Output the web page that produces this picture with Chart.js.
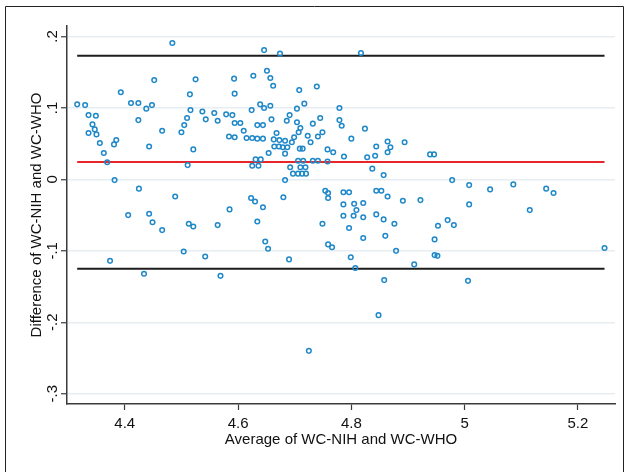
<!DOCTYPE html>
<html>
<head>
<meta charset="utf-8">
<script src="https://cdn.jsdelivr.net/npm/chart.js@4"></script>
<style>
  html, body { margin: 0; padding: 0; background: #fff; }
  #wrap { position: relative; width: 627px; height: 472px; }
</style>
</head>
<body>
<div id="wrap"><canvas id="chart"></canvas></div>
<script>
// Bland-Altman: average vs difference of WC-NIH and WC-WHO (log scale values)
const avgWC = [
  4.484, 4.316, 4.330, 4.393, 4.411, 4.424, 4.438, 4.448, 4.452, 4.525,
  4.515, 4.516, 4.537, 4.543, 4.510, 4.505, 4.500, 4.521, 4.511, 4.336,
  4.349, 4.343, 4.347, 4.336, 4.350, 4.356, 4.363, 4.369, 4.381, 4.385,
  4.424, 4.443, 4.466, 4.382, 4.425, 4.489, 4.406, 4.443, 4.449, 4.466,
  4.513, 4.521, 4.504, 4.542, 4.374, 4.434, 4.646, 4.674, 4.651, 4.627,
  4.593, 4.657, 4.662, 4.739, 4.708, 4.594, 4.717, 4.639, 4.657, 4.646,
  4.624, 4.704, 4.779, 4.558, 4.579, 4.590, 4.691, 4.745, 4.564, 4.659,
  4.686, 4.779, 4.594, 4.604, 4.704, 4.634, 4.644, 4.732, 4.783, 4.710,
  4.610, 4.707, 4.749, 4.668, 4.723, 4.584, 4.594, 4.615, 4.625, 4.634,
  4.644, 4.741, 4.699, 4.663, 4.673, 4.683, 4.695, 4.728, 4.664, 4.672,
  4.679, 4.687, 4.709, 4.714, 4.758, 4.768, 4.654, 4.683, 4.787, 4.631,
  4.640, 4.706, 4.715, 4.732, 4.741, 4.758, 4.625, 4.636, 4.692, 4.710,
  4.719, 4.697, 4.706, 4.713, 4.720, 4.683, 4.754, 4.759, 4.786, 4.623,
  4.680, 4.759, 4.630, 4.786, 4.786, 4.585, 4.644, 4.564, 4.634, 4.749,
  4.648, 4.653, 4.759, 4.766, 4.690, 4.569, 4.725, 4.817, 4.824, 4.800,
  4.864, 4.869, 4.894, 4.844, 4.864, 4.828, 4.842, 4.939, 4.946, 4.837,
  4.857, 4.978, 5.008, 4.796, 4.844, 4.853, 4.864, 4.891, 4.922, 5.008,
  4.805, 4.821, 4.809, 4.804, 4.821, 4.844, 4.857, 4.876, 4.796, 4.821,
  4.860, 4.953, 4.970, 4.981, 4.947, 4.879, 4.799, 4.807, 4.947, 4.952,
  4.911, 4.858, 5.006, 4.848, 5.045, 5.086, 5.144, 5.157, 5.115, 5.247
];
const diffWC = [
  0.191, 0.105, 0.104, 0.122, 0.107, 0.107, 0.099, 0.104, 0.139, 0.140,
  0.119, 0.097, 0.095, 0.084, 0.086, 0.076, 0.066, 0.042, 0.020, 0.090,
  0.089, 0.077, 0.070, 0.065, 0.063, 0.051, 0.037, 0.024, 0.049, 0.055,
  0.083, 0.046, 0.068, -0.001, -0.013, -0.024, -0.050, -0.048, -0.060, -0.071,
  -0.062, -0.066, -0.101, -0.108, -0.114, -0.132, 0.181, 0.176, 0.152, 0.145,
  0.141, 0.142, 0.131, 0.130, 0.125, 0.120, 0.106, 0.105, 0.103, 0.100,
  0.097, 0.099, 0.100, 0.093, 0.091, 0.090, 0.090, 0.086, 0.082, 0.084,
  0.082, 0.083, 0.079, 0.079, 0.080, 0.076, 0.076, 0.078, 0.075, 0.072,
  0.068, 0.066, 0.066, 0.065, 0.061, 0.060, 0.059, 0.058, 0.058, 0.057,
  0.057, 0.060, 0.059, 0.056, 0.055, 0.054, 0.052, 0.052, 0.046, 0.046,
  0.045, 0.045, 0.043, 0.043, 0.042, 0.038, 0.037, 0.036, 0.032, 0.028,
  0.028, 0.026, 0.026, 0.026, 0.026, 0.025, 0.019, 0.019, 0.017, 0.017,
  0.017, 0.008, 0.008, 0.008, 0.008, -0.001, -0.016, -0.019, -0.018, -0.026,
  -0.025, -0.026, -0.031, -0.035, -0.051, -0.042, -0.039, -0.064, -0.059, -0.062,
  -0.087, -0.097, -0.091, -0.095, -0.112, -0.135, -0.240, 0.177, 0.071, 0.057,
  0.053, 0.045, 0.052, 0.046, 0.038, 0.031, 0.033, 0.035, 0.035, 0.015,
  0.006, -0.001, -0.008, -0.018, -0.016, -0.016, -0.024, -0.030, -0.029, -0.035,
  -0.034, -0.033, -0.043, -0.051, -0.053, -0.049, -0.056, -0.062, -0.068, -0.082,
  -0.079, -0.065, -0.057, -0.064, -0.084, -0.100, -0.109, -0.124, -0.106, -0.107,
  -0.119, -0.141, -0.142, -0.190, -0.014, -0.007, -0.013, -0.019, -0.043, -0.096
];

const meanDiff = 0.0245;
const upperLoA = 0.173;
const lowerLoA = -0.125;

const xTicks = [4.4, 4.6, 4.8, 5, 5.2];
const xTickLabels = ['4.4', '4.6', '4.8', '5', '5.2'];
const yTicks = [-0.3, -0.2, -0.1, 0, 0.1, 0.2];
const yTickLabels = ['-.3', '-.2', '-.1', '0', '.1', '.2'];

const points = avgWC.map((x, i) => ({ x: x, y: diffWC[i] }));
const xLo = Math.min(...avgWC);
const xHi = Math.max(...avgWC);
const hline = (v) => [{ x: xLo, y: v }, { x: xHi, y: v }];

const FONT = 'Liberation Sans, Arial, sans-serif';
const AXIS = '#3a3a3a';

// outer frame like the Stata graph region outline
const framePlugin = {
  id: 'frame',
  beforeDraw(chart) {
    const c = chart.ctx;
    c.save();
    c.fillStyle = '#fff';
    c.fillRect(0, 0, chart.width, chart.height);
    c.strokeStyle = '#222';
    c.lineWidth = 1;
    c.beginPath();
    c.moveTo(5.5, chart.height);
    c.lineTo(5.5, 6.5);
    c.lineTo(623.5, 6.5);
    c.lineTo(623.5, chart.height);
    c.stroke();
    c.restore();
  }
};

new Chart(document.getElementById('chart'), {
  type: 'scatter',
  data: {
    datasets: [
      {
        label: 'Difference',
        data: points,
        pointStyle: 'circle',
        pointRadius: 2.3,
        pointBorderWidth: 1.5,
        pointBorderColor: '#1f88c8',
        pointBackgroundColor: 'rgba(255,255,255,0)',
        showLine: false
      },
      {
        label: 'Mean',
        data: hline(meanDiff),
        showLine: true,
        borderColor: '#e8252b',
        borderWidth: 2,
        pointRadius: 0
      },
      {
        label: 'Upper',
        data: hline(upperLoA),
        showLine: true,
        borderColor: '#1c1c1c',
        borderWidth: 2,
        pointRadius: 0
      },
      {
        label: 'Lower',
        data: hline(lowerLoA),
        showLine: true,
        borderColor: '#1c1c1c',
        borderWidth: 2,
        pointRadius: 0
      }
    ]
  },
  options: {
    responsive: true,
    maintainAspectRatio: false,
    animation: false,
    events: [],
    layout: { padding: { left: 20, top: 26, right: 12, bottom: 0 } },
    plugins: {
      legend: { display: false },
      tooltip: { enabled: false }
    },
    scales: {
      x: {
        type: 'linear',
        min: 4.298,
        max: 5.2655,
        afterBuildTicks: (s) => { s.ticks = xTicks.map(v => ({ value: v })); },
        afterFit: (s) => { s.height = 68; },
        ticks: {
          callback: (v) => xTickLabels[xTicks.indexOf(v)],
          font: { family: FONT, size: 15 },
          color: '#111',
          padding: 5
        },
        grid: {
          drawOnChartArea: false,
          drawTicks: true,
          tickLength: 6,
          tickColor: AXIS,
          tickWidth: 1.2
        },
        border: { color: AXIS, width: 1.5 },
        title: {
          display: true,
          text: 'Average of WC-NIH and WC-WHO',
          font: { family: FONT, size: 15 },
          color: '#111',
          padding: { top: 0, bottom: 23 }
        }
      },
      y: {
        type: 'linear',
        min: -0.3144,
        max: 0.2147,
        afterBuildTicks: (s) => { s.ticks = yTicks.map(v => ({ value: v })); },
        afterFit: (s) => { s.width = 47; },
        ticks: {
          callback: (v) => yTickLabels[yTicks.findIndex(t => Math.abs(t - v) < 1e-9)],
          font: { family: FONT, size: 15 },
          color: '#111',
          minRotation: 90,
          maxRotation: 90,
          crossAlign: 'center',
          padding: -1
        },
        grid: {
          color: '#e6eef2',
          lineWidth: 1.5,
          drawTicks: true,
          tickLength: 6,
          tickColor: AXIS,
          tickWidth: 1.2
        },
        border: { color: AXIS, width: 1.5 },
        title: {
          display: true,
          text: 'Difference of WC-NIH and WC-WHO',
          font: { family: FONT, size: 15 },
          color: '#111',
          padding: { top: 8, bottom: 0 }
        }
      }
    }
  },
  plugins: [framePlugin]
});
</script>
</body>
</html>
